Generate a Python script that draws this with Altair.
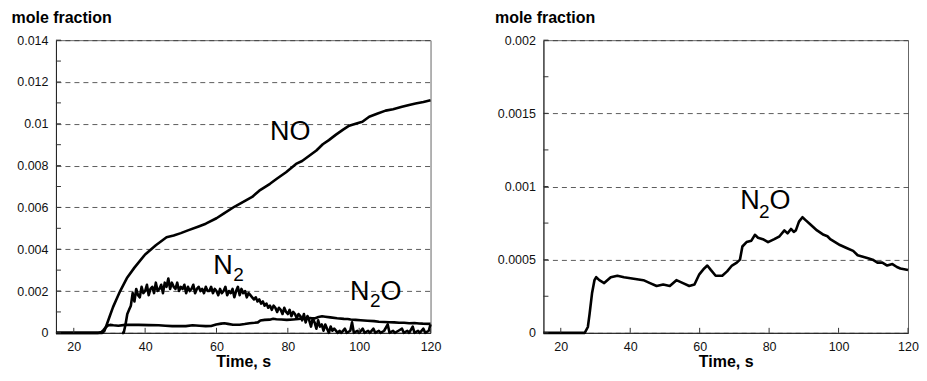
import altair as alt
import pandas as pd

FONT = "Liberation Sans"

# ---------------- data ----------------
# NO (left panel)
no_t = [15, 28, 28.6, 29, 30, 31, 32, 33, 35, 37, 40, 43, 46, 48, 50, 52, 55, 57,
        60, 62, 65, 67, 70, 72, 75, 77, 79.5, 82.3, 84, 86, 88, 89.8, 91.5, 93.5,
        95.5, 97.2, 99, 100.9, 102.8, 105, 107.4, 109.5, 112, 114, 115.8, 118, 120]
no_v = [0, 0, 0.0001, 0.00028, 0.00076, 0.00123, 0.00162, 0.002, 0.00265, 0.00312,
        0.00375, 0.00419, 0.00457, 0.00466, 0.00477, 0.00490, 0.00509, 0.00522,
        0.00548, 0.00570, 0.00603, 0.00622, 0.00650, 0.00680, 0.00713, 0.00738,
        0.00768, 0.00808, 0.00822, 0.00847, 0.00872, 0.00902, 0.00922, 0.00948,
        0.00972, 0.00991, 0.01000, 0.01010, 0.01034, 0.01048, 0.01063, 0.01070,
        0.01081, 0.01090, 0.01097, 0.01104, 0.01113]

# N2 (left panel), (time, mole fraction) pairs
n2_points = [
    (33.5, 0), (34, 0), (34.5, 0.0004), (35, 0.0009), (35.5, 0.0011),
    (36, 0.0013), (36.5, 0.0019), (37, 0.0015), (37.5, 0.0021), (38, 0.0018),
    (38.5, 0.0017), (39, 0.0022), (39.5, 0.0019), (40, 0.0020), (40.5, 0.0023),
    (41, 0.0018), (41.5, 0.0021), (42, 0.0022), (42.5, 0.0019), (43, 0.0024),
    (43.5, 0.0020), (44, 0.0021), (44.5, 0.0023), (45, 0.0019), (45.5, 0.0024),
    (46, 0.0022), (46.5, 0.0026), (47, 0.0021), (47.5, 0.0024), (48, 0.0022),
    (48.5, 0.0021), (49, 0.0024), (49.5, 0.0020), (50, 0.0022), (50.5, 0.0021),
    (51, 0.0023), (51.5, 0.0019), (52, 0.0022), (52.5, 0.0020), (53, 0.0021),
    (53.5, 0.0023), (54, 0.0019), (54.5, 0.0021), (55, 0.0022), (55.5, 0.0020),
    (56, 0.0021), (56.5, 0.0019), (57, 0.0022), (57.5, 0.0020), (58, 0.0020),
    (58.5, 0.0022), (59, 0.0019), (59.5, 0.0021), (60, 0.0020), (60.5, 0.0018),
    (61, 0.0021), (61.5, 0.0019), (62, 0.0020), (62.5, 0.0022), (63, 0.0018),
    (63.5, 0.0020), (64, 0.0019), (64.5, 0.0021), (65, 0.0017), (65.5, 0.0020),
    (66, 0.0022), (66.5, 0.0018), (67, 0.0021), (67.5, 0.0019), (68, 0.0020),
    (68.5, 0.0017), (69, 0.0019), (69.5, 0.0018), (70, 0.0017), (70.5, 0.0016),
    (71, 0.0017), (71.5, 0.0015), (72, 0.0016), (72.5, 0.0014), (73, 0.0015),
    (73.5, 0.0013), (74, 0.0014), (74.5, 0.0012), (75, 0.0013), (75.5, 0.0011),
    (76, 0.0013), (76.5, 0.0012), (77, 0.0010), (77.5, 0.0012), (78, 0.0011),
    (78.5, 0.0009), (79, 0.0012), (79.5, 0.0010), (80, 0.0009), (80.5, 0.0011),
    (81, 0.0008), (81.5, 0.0010), (82, 0.0009), (82.5, 0.0007), (83, 0.0009),
    (83.5, 0.0008), (84, 0.0006), (84.5, 0.0009), (85, 0.0005), (85.5, 0.0008),
    (86, 0.0006), (86.5, 0.0003), (87, 0.0007), (87.5, 0.0005), (88, 0.0002),
    (88.5, 0.0006), (89, 0.0003), (89.5, 0.0004), (90, 0.0001), (90.5, 0.0004),
    (91, 0.0002), (91.5, 0.0000), (92, 0.0003), (92.5, 0.0001), (93, 0.0002),
    (94, 0.0000), (94.5, 0.0001), (95, 0.0000), (96, 0.0002), (96.5, 0.0000),
    (97.5, 0.0001), (98, 0.0005), (98.5, 0.0000), (99.5, 0.0001), (100, 0.0000),
    (101, 0.0002), (101.5, 0.0000), (102.5, 0.0001), (103, 0.0000), (104, 0.0002),
    (104.5, 0.0000), (105.5, 0.0001), (106, 0.0000), (107, 0.0001), (108, 0.0004),
    (108.5, 0.0000), (109.5, 0.0001), (110, 0.0000), (111, 0.0001), (112, 0.0002),
    (112.5, 0.0000), (113.5, 0.0001), (114, 0.0000), (115, 0.0003), (115.5, 0.0000),
    (116.5, 0.0001), (117, 0.0000), (118, 0.0002), (118.5, 0.0000), (119.5, 0.0001),
    (120, 0.0004),
]
n2_t = [p[0] for p in n2_points]
n2_v = [p[1] for p in n2_points]

# N2O (both panels)
n2o_t = [15, 26.9, 27.8, 28.3, 29, 29.7, 30.2, 31.1, 32.5, 34.4, 36.3, 38.2, 41,
         43.8, 45.7, 47.6, 49.5, 51.4, 53.3, 55.2, 57, 58.5, 59.9, 61.3, 62.2, 63.2,
         64.6, 66.5, 67.9, 69.3, 70.7, 71.6, 72.3, 73.5, 74.9, 75.9, 76.8, 78.2,
         79.7, 81.5, 83, 84.4, 85.3, 86.3, 87.1, 87.7, 88.6, 89.6, 90.5, 91.9, 93.8,
         95.7, 96.8, 97.6, 99, 100.4, 102.3, 104.2, 105.5, 107, 108.5, 109.8, 111.2,
         112.6, 114, 115.5, 116.8, 117.8, 120]
n2o_v = [0, 0, 0.00004, 0.00013, 0.00027, 0.00036, 0.00038, 0.00036, 0.00034,
         0.00038, 0.00039, 0.00038, 0.00037, 0.00036, 0.00034, 0.00032, 0.00033,
         0.00032, 0.00036, 0.00034, 0.00032, 0.00033, 0.00040, 0.00044, 0.00046,
         0.00043, 0.00039, 0.00039, 0.00042, 0.00046, 0.00048, 0.00050, 0.00059,
         0.00062, 0.00063, 0.00067, 0.00065, 0.00064, 0.00062, 0.00064, 0.00066,
         0.00070, 0.00068, 0.00071, 0.00069, 0.00070, 0.00076, 0.00079, 0.00077,
         0.00074, 0.00070, 0.00067, 0.00066, 0.00064, 0.00062, 0.00060, 0.00058,
         0.00056, 0.00053, 0.00052, 0.00051, 0.00050, 0.00048, 0.00048, 0.00046,
         0.00047, 0.00045, 0.00044, 0.00043]

# axis tick values
x_ticks = [20, 40, 60, 80, 100, 120]
left_y_ticks = [0, 0.002, 0.004, 0.006, 0.008, 0.010, 0.012, 0.014]
left_y_minor = [0.001, 0.003, 0.005, 0.007, 0.009, 0.011, 0.013]
right_y_ticks = [0, 0.0005, 0.001, 0.0015, 0.002]
right_y_minor = [0.00025, 0.00075, 0.00125, 0.00175]

# curve labels (text pieces, anchored in data units at their left/baseline)
left_lab_text = ["NO", "N", "2", "N", "2", "O"]
left_lab_t = [75.0, 59.1, 64.7, 97.4, 103.0, 106.0]
left_lab_v = [0.00924, 0.00283, 0.00250, 0.00156, 0.00123, 0.00156]
left_lab_big = [True, True, False, True, False, True]
right_lab_text = ["N", "2", "O"]
right_lab_t = [71.7, 77.1, 80.1]
right_lab_v = [0.000847, 0.000786, 0.000847]
right_lab_big = [True, False, True]

# ---------------- tables ----------------
left_lines = pd.concat([
    pd.DataFrame({"t": no_t, "v": no_v, "s": "NO"}),
    pd.DataFrame({"t": n2_t, "v": n2_v, "s": "N2"}),
    pd.DataFrame({"t": n2o_t, "v": n2o_v, "s": "N2O"}),
])
right_lines = pd.DataFrame({"t": n2o_t, "v": n2o_v, "s": "N2O"})


def labels_df(text, t, v, big):
    return pd.DataFrame({"t": t, "v": v, "txt": text,
                         "fs": [27 if b else 19 for b in big]})


W_L, W_R, H = 375, 365, 293
XDOM = [15, 120]


def panel(lines, y_dom, y_ticks, y_minor, labs, width, title_x):
    xs = alt.Scale(domain=XDOM, nice=False, zero=False)
    ys = alt.Scale(domain=y_dom, nice=False, zero=False)
    x_axis = alt.Axis(values=x_ticks, title="Time, s", grid=False, ticks=False,
                      tickSize=0, labelPadding=8, titlePadding=0,
                      labelFlush=False)
    y_axis = alt.Axis(values=y_ticks, format="~g", grid=True, gridDash=[5, 4],
                      gridColor="#333", gridWidth=0.8, ticks=False, tickSize=0,
                      labelPadding=8, title="mole fraction", titleAngle=0,
                      titleAlign="left", titleBaseline="top", titleX=title_x,
                      titleY=-31)
    X = alt.X("t:Q", scale=xs, axis=x_axis)
    Y = alt.Y("v:Q", scale=ys, axis=y_axis)
    line = alt.Chart(lines).mark_line(color="black", strokeWidth=2.6,
                                      strokeJoin="round").encode(
        x=X, y=Y, detail="s:N",
    )
    xt = alt.Chart(pd.DataFrame({"t": x_ticks})).mark_rule(
        color="#333", strokeWidth=1).encode(
        x=X, y=alt.value(H), y2=alt.value(H - 5),
    )
    yt = alt.Chart(pd.DataFrame({"v": y_ticks + y_minor})).mark_rule(
        color="#333", strokeWidth=1).encode(
        y=Y, x=alt.value(0), x2=alt.value(5),
    )
    txt = alt.Chart(labs).mark_text(align="left", baseline="alphabetic",
                                    font=FONT, color="black").encode(
        x=X, y=Y, text="txt:N",
        size=alt.Size("fs:Q", scale=None, legend=None),
    )
    return alt.layer(line, xt, yt, txt).properties(width=width, height=H)


left = panel(left_lines, [0, 0.014], left_y_ticks, left_y_minor,
             labels_df(left_lab_text, left_lab_t, left_lab_v, left_lab_big),
             W_L, -45)
right = panel(right_lines, [0, 0.002], right_y_ticks, right_y_minor,
              labels_df(right_lab_text, right_lab_t, right_lab_v, right_lab_big),
              W_R, -49)

chart = alt.hconcat(left, right, spacing=113, bounds="flush").resolve_scale(
    x="independent", y="independent"
).configure_view(stroke="#666", strokeWidth=1).configure_axis(
    labelFont=FONT, labelFontSize=12.5, labelColor="#111",
    titleFont=FONT, titleFontSize=16, titleFontWeight="bold", titleColor="black",
    domainColor="#222", domainWidth=1,
).properties(padding={"left": 2, "top": 0, "right": 0, "bottom": 0},
             background="white")

chart.save("out.html", embed_options={"renderer": "svg", "actions": False})
